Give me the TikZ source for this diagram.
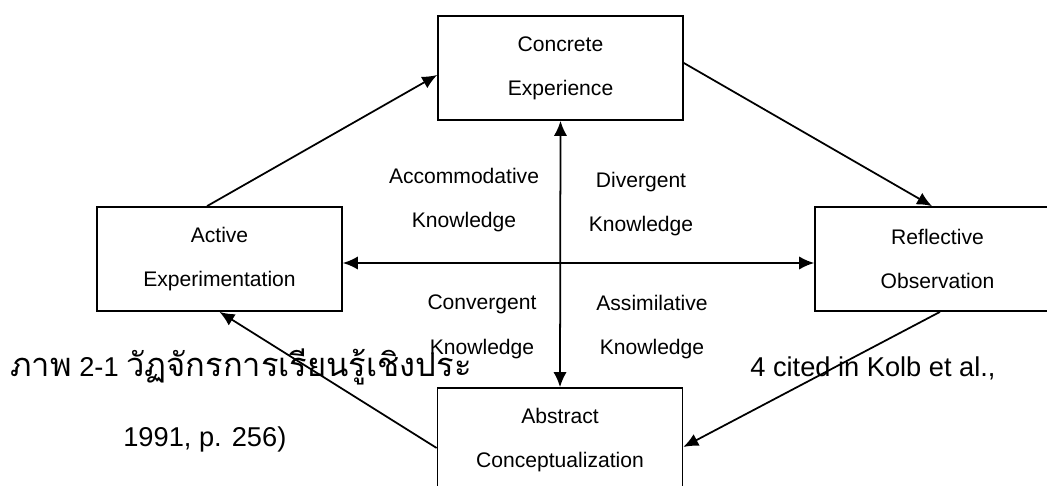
\documentclass[tikz,border=0pt]{standalone}
\usepackage{fontspec}
\setmainfont{Liberation Sans}
\newfontfamily\thaifont[Script=Thai,Scale=1.2]{Loma}
\usetikzlibrary{arrows.meta}

\tikzstyle{stage}=[draw,fill=white,rectangle,line width=1pt,minimum width=4.9cm,minimum height=2.08cm,inner sep=0pt,align=center,font=\fontsize{12}{25}\selectfont]
\tikzstyle{kind}=[align=center,inner sep=0pt,font=\fontsize{12}{25.5}\selectfont]
\tikzstyle{caption}=[anchor=base west,inner sep=0pt,font=\fontsize{15.5}{18}\selectfont]

\begin{document}
\begin{tikzpicture}[x=0.02cm,y=-0.02cm]
	\useasboundingbox (0,0) rectangle (1047,486);
	\clip (0,0) rectangle (1047,486);
	% caption lying behind the cycle
	\node[caption] (cap1) at (10,376) {{\thaifont ภาพ} 2-1 {\thaifont วัฏจักรการเรียนรู้เชิงประ}};
	\node[caption] (cap2) at (750,376) {4 cited in Kolb et al.,};
	\node[caption] (cap3) at (123,446) {1991, p. 256)};
	\begin{scope}[>={Latex[length=8.5pt,width=7.5pt]}] %for filled arrow tips
		\node (CE)[stage] at (560.5,68) {Concrete\\Experience};
		\node (AE)[stage] at (219.5,259) {Active\\Experimentation};
		\node (RO)[stage] at (937.5,259) {Reflective\\Observation};
		\node (AC)[stage] at (560,440) {Abstract\\Conceptualization};
		\foreach \nm/\x/\y/\first in {acc/464/200/Accommodative, div/641/204/Divergent, con/482/327/Convergent, ass/652/327/Assimilative}{
			\node (\nm)[kind] at (\x,\y) {\first\\Knowledge};
		}
		\draw[->,line width=1pt] ([xshift=-0.25cm]AE.north) -- ([yshift=-0.14cm]CE.west);
		\draw[->,line width=1pt] ([yshift=0.1cm]CE.east) -- ([xshift=-0.11cm]RO.north);
		\draw[->,line width=1pt] ([xshift=0.05cm]RO.south) -- ([yshift=-0.14cm]AC.east);
		\draw[->,line width=1pt] ([yshift=-0.16cm]AC.west) -- (AE.south);
		\draw[<->,line width=1pt] ([yshift=-0.08cm]AE.east) -- ([yshift=-0.08cm]RO.west);
		\draw[<->,line width=1pt] (CE.south) -- (AC.north);
	\end{scope}
\end{tikzpicture}
\end{document}
